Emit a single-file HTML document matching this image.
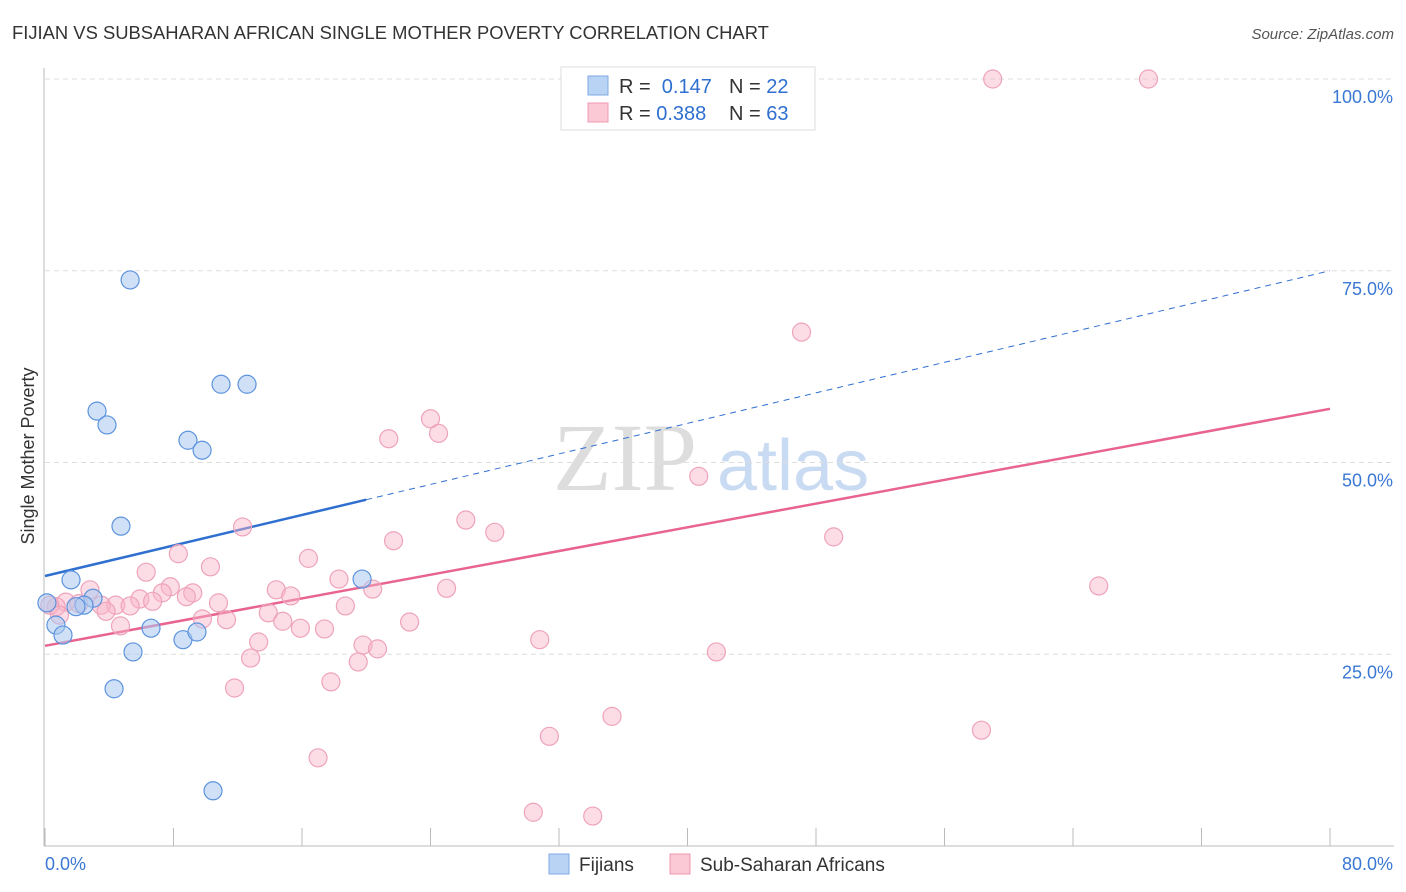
<!DOCTYPE html>
<html><head><meta charset="utf-8"><style>
body{margin:0;background:#fff;font-family:"Liberation Sans",sans-serif;}
svg{display:block}
</style></head><body>
<svg id="chart" width="1406" height="892">
<text x="12" y="39" font-size="18.4" fill="#333">FIJIAN VS SUBSAHARAN AFRICAN SINGLE MOTHER POVERTY CORRELATION CHART</text>
<text x="1394" y="39" font-size="15" fill="#555" font-style="italic" text-anchor="end">Source: ZipAtlas.com</text>
<text x="34" y="456" font-size="18" fill="#333" text-anchor="middle" transform="rotate(-90 34 456)">Single Mother Poverty</text>
<g>
<text x="553" y="490" font-size="96" fill="#ddd" font-family="Liberation Serif,serif">ZIP</text>
<text x="717" y="490" font-size="72" fill="#c9dbf2">atlas</text>
</g>
<g id="grid"></g><g id="axes"></g><g id="lines"></g><g id="pts"></g>
<g>
<rect x="561" y="67" width="254" height="63" fill="#fff" stroke="#ddd"/>
<rect x="588" y="76" width="20" height="19" fill="#b9d3f5" stroke="#7ea8e0"/>
<rect x="588" y="103" width="20" height="19" fill="#fbc8d6" stroke="#ef9ab2"/>
<text x="619" y="93" font-size="20" fill="#333">R = <tspan fill="#2f6fd0">&#160;0.147</tspan><tspan x="729">N = </tspan><tspan fill="#2f6fd0">22</tspan></text>
<text x="619" y="120" font-size="20" fill="#333">R = <tspan fill="#2f6fd0">0.388</tspan><tspan x="729">N = </tspan><tspan fill="#2f6fd0">63</tspan></text>
</g>
<g>
<rect x="549" y="854" width="20" height="20" fill="#b9d3f5" stroke="#7ea8e0"/>
<text x="579" y="871" font-size="19" fill="#333">Fijians</text>
<rect x="670" y="854" width="20" height="20" fill="#fbc8d6" stroke="#ef9ab2"/>
<text x="700" y="871" font-size="19" fill="#333">Sub-Saharan Africans</text>
</g>
</svg>
<script>
const yTicks=[25,50,75,100];
const yTickLabels=["25.0%","50.0%","75.0%","100.0%"];
const fijX=[5.3,3.24,3.86,10.96,12.58,8.9,9.78,4.73,1.62,19.74,2.99,2.43,1.93,0.12,0.68,1.12,6.6,8.59,9.46,5.48,4.3,10.46];
const fijY=[73.8,56.7,54.9,60.2,60.2,52.9,51.6,41.7,34.7,34.8,32.3,31.4,31.2,31.7,28.8,27.5,28.4,26.9,27.9,25.3,20.5,7.2];
const ssaX=[59.0,68.7,47.1,24.0,24.5,21.4,40.7,26.2,28.0,12.3,21.7,49.1,8.3,16.4,10.3,6.3,18.3,65.6,25.0,20.4,2.8,7.8,14.4,7.3,9.2,8.8,15.3,5.9,6.7,10.8,1.3,4.4,5.3,3.5,2.1,0.7,3.8,18.7,13.9,9.8,11.3,14.8,22.7,4.7,15.9,17.4,13.3,30.8,19.8,20.7,41.8,12.8,19.5,11.8,17.8,35.3,58.3,31.4,17.0,30.4,34.1,0.3,0.9];
const ssaY=[100,100,67.0,55.7,53.8,53.1,48.2,42.5,40.9,41.6,39.8,40.3,38.1,37.5,36.4,35.7,34.8,33.9,33.6,33.5,33.4,33.8,33.4,33.0,33.0,32.5,32.6,32.2,31.9,31.7,31.8,31.4,31.3,31.4,31.6,31.2,30.6,31.3,30.4,29.6,29.5,29.3,29.2,28.7,28.4,28.3,26.6,26.9,26.2,25.7,25.3,24.5,24.0,20.6,21.4,16.9,15.1,14.3,11.5,4.4,3.9,31.4,30.1];
const fijTrend=[35.2,75.0];
const ssaTrend=[26.1,57.0];
const NS="http://www.w3.org/2000/svg";
const X=v=>45+v*1285/80, Y=v=>846-v*7.67;
function mk(p,t,a){const e=document.createElementNS(NS,t);for(const k in a)e.setAttribute(k,a[k]);p.appendChild(e);return e;}
const grid=document.getElementById('grid'),axes=document.getElementById('axes'),lines=document.getElementById('lines'),pts=document.getElementById('pts');
yTicks.forEach((t,i)=>{
 const l=mk(grid,'line',{x1:45,x2:1394,y1:Y(t),y2:Y(t),stroke:'#ddd','stroke-dasharray':'5,4'});
 
 
 const tx=mk(axes,'text',{x:1393,y:Y(t)+24,'font-size':18,fill:'#3a78d4','text-anchor':'end'});
 tx.textContent=yTickLabels[i];
 
 
});
const al=mk(axes,'line',{x1:44,x2:44,y1:68,y2:846,stroke:'#bbb'});


const bl=mk(axes,'line',{x1:44,x2:1394,y1:846,y2:846,stroke:'#bbb'});


for(let i=0;i<=10;i++){const t=mk(axes,'line',{x1:X(i*8),x2:X(i*8),y1:828,y2:846,stroke:'#bbb'});
 
 }
const x0=mk(axes,'text',{x:45,y:870,'font-size':18,fill:'#3a78d4'});x0.textContent='0.0%';


const x1=mk(axes,'text',{x:1393,y:870,'font-size':18,fill:'#3a78d4','text-anchor':'end'});x1.textContent='80.0%';


const tf=v=>fijTrend[0]+(fijTrend[1]-fijTrend[0])*v/80, ts=v=>ssaTrend[0]+(ssaTrend[1]-ssaTrend[0])*v/80;
const d1=mk(lines,'line',{x1:X(20),y1:Y(tf(20)),x2:X(80),y2:Y(tf(80)),stroke:'#2f6fd0','stroke-width':1,'stroke-dasharray':'6,5'});


const s1=mk(lines,'line',{x1:X(0),y1:Y(tf(0)),x2:X(20),y2:Y(tf(20)),stroke:'#2f6fd0','stroke-width':2.5});


const s2=mk(lines,'line',{x1:X(0),y1:Y(ts(0)),x2:X(80),y2:Y(ts(80)),stroke:'#e8648f','stroke-width':2.5});


ssaX.forEach((v,i)=>{const c=mk(pts,'circle',{cx:X(v),cy:Y(ssaY[i]),r:9,fill:'rgba(248,180,200,0.45)',stroke:'#eea3bb','stroke-width':1.2});
 
 });
fijX.forEach((v,i)=>{const c=mk(pts,'circle',{cx:X(v),cy:Y(fijY[i]),r:9,fill:'rgba(170,200,240,0.55)',stroke:'#5d93dd','stroke-width':1.2});
 
 });
</script>
</body></html>
